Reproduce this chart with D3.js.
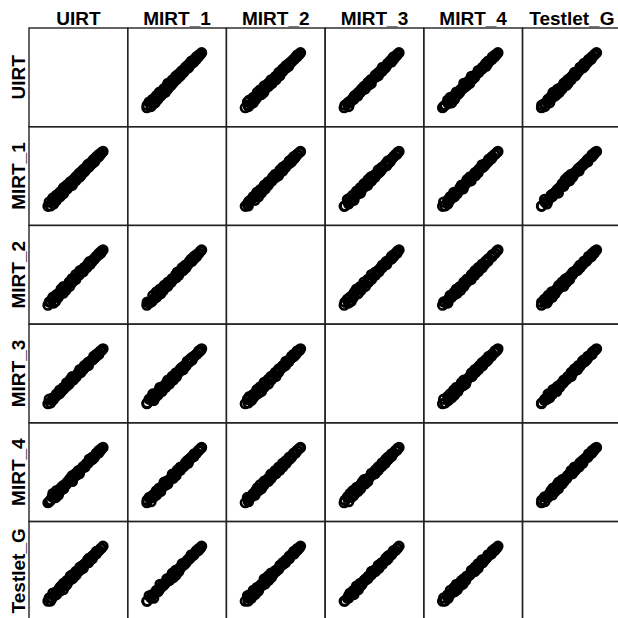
<!DOCTYPE html>
<html>
<head>
<meta charset="utf-8">
<script src="https://cdn.jsdelivr.net/npm/d3@7"></script>
<style>
  body { margin: 0; background: #fff; }
  svg { display: block; }
</style>
</head>
<body>
<figure id="splom" style="margin:0"></figure>
<script>
// variable names (rows and columns of the matrix)
const variables = ["UIRT", "MIRT_1", "MIRT_2", "MIRT_3", "MIRT_4", "Testlet_G"];

const UIRT = [-3.20, -2.93, -3.07, -2.60, -2.76, -2.39, -2.68, -2.30, -2.10, -2.31, -1.93, -1.96, -1.59,
  -1.81, -1.55, -1.31, -1.56, -1.18, -1.23, -0.90, -0.96, -0.63, -0.84, -0.53, -0.65, -0.27, -0.24, -0.26,
  0.11, 0.01, 0.26, 0.16, 0.52, 0.48, 0.71, 0.63, 0.88, 1.06, 0.99, 1.23, 1.16, 1.47, 1.48, 1.71, 1.63,
  1.89, 1.90, 2.15, 2.16, 2.36, 2.44, 2.60];
const MIRT_1 = [-3.18, -3.15, -2.74, -2.94, -2.46, -2.63, -2.31, -2.55, -2.16, -2.01, -2.18, -1.72, -1.87,
  -1.59, -1.79, -1.43, -1.22, -1.36, -0.97, -1.08, -0.80, -0.96, -0.61, -0.39, -0.51, -0.50, -0.10, -0.09,
  -0.13, 0.18, 0.04, 0.36, 0.35, 0.64, 0.54, 0.77, 0.94, 0.89, 1.18, 1.08, 1.31, 1.32, 1.59, 1.50, 1.78,
  1.81, 2.04, 2.03, 2.26, 2.30, 2.48, 2.59];
const MIRT_2 = [-3.21, -2.90, -2.87, -2.98, -2.57, -2.78, -2.37, -2.18, -2.36, -2.10, -1.82, -2.00, -1.94,
  -1.51, -1.51, -1.63, -1.25, -1.12, -1.20, -1.22, -0.77, -0.79, -0.80, -0.47, -0.40, -0.51, -0.31, 0.02,
  0.00, -0.05, 0.28, 0.43, 0.32, 0.45, 0.74, 0.76, 0.73, 1.02, 1.11, 1.07, 1.37, 1.43, 1.42, 1.67, 1.67,
  1.94, 1.89, 2.10, 2.25, 2.27, 2.49, 2.61];
const MIRT_3 = [-3.19, -3.11, -2.71, -2.72, -2.85, -2.44, -2.57, -2.16, -2.20, -2.28, -2.09, -1.75, -1.70,
  -1.89, -1.46, -1.41, -1.49, -1.29, -0.99, -0.94, -1.10, -0.70, -0.63, -0.68, -0.34, -0.32, -0.38, -0.31,
  0.06, 0.10, 0.11, 0.41, 0.48, 0.40, 0.66, 0.82, 0.79, 0.85, 1.14, 1.28, 1.22, 1.44, 1.41, 1.64, 1.80,
  1.80, 2.02, 2.00, 2.22, 2.38, 2.43, 2.59];
const MIRT_4 = [-3.22, -2.96, -3.11, -2.66, -2.62, -2.68, -2.26, -2.43, -2.40, -1.96, -1.97, -2.04, -1.68,
  -1.61, -1.76, -1.32, -1.39, -1.06, -1.24, -0.96, -0.79, -0.98, -0.66, -0.65, -0.37, -0.21, -0.35, -0.12,
  -0.18, 0.17, 0.24, 0.19, 0.53, 0.55, 0.53, 0.66, 0.95, 1.00, 0.94, 1.20, 1.38, 1.33, 1.57, 1.57, 1.64,
  1.93, 1.99, 2.02, 2.27, 2.31, 2.50, 2.61];
const Testlet_G = [-3.20, -3.18, -2.85, -2.63, -2.88, -2.53, -2.34, -2.50, -2.05, -2.19, -2.13, -1.77, -1.98,
  -1.60, -1.42, -1.55, -1.31, -1.39, -1.03, -0.85, -1.02, -0.84, -0.55, -0.71, -0.42, -0.24, -0.43, -0.07,
  0.06, -0.08, 0.13, 0.38, 0.28, 0.58, 0.76, 0.67, 0.86, 0.86, 1.16, 1.12, 1.35, 1.28, 1.54, 1.69, 1.69,
  1.77, 2.05, 2.12, 2.14, 2.35, 2.42, 2.60];

const scores = { UIRT, MIRT_1, MIRT_2, MIRT_3, MIRT_4, Testlet_G };

const width = 618, height = 618;
const gridLeft = 29, gridTop = 28;
const cell = 98.7;

const svg = d3.select("figure#splom")
  .append("svg")
  .attr("width", width)
  .attr("height", height);

// grid scales: one band per variable
const col = d3.scaleBand().domain(variables).range([gridLeft, gridLeft + cell * variables.length]);
const row = d3.scaleBand().domain(variables).range([gridTop, gridTop + cell * variables.length]);

// value scales inside one cell
const x = d3.scaleLinear().domain([-5.2, 5.2]).range([0, cell]);
const y = d3.scaleLinear().domain([-5.2, 5.2]).range([cell, 0]);

// column headers
svg.append("g")
  .selectAll("text")
  .data(variables)
  .enter()
  .append("text")
  .attr("x", d => col(d) + cell / 2)
  .attr("y", 25)
  .attr("text-anchor", "middle")
  .style("font", "bold 19px 'Liberation Sans', Arial, sans-serif")
  .text(d => d);

// row labels, rotated
svg.append("g")
  .selectAll("text")
  .data(variables)
  .enter()
  .append("text")
  .attr("transform", d => "translate(25," + (row(d) + cell / 2) + ")rotate(-90)")
  .attr("text-anchor", "middle")
  .style("font", "bold 19px 'Liberation Sans', Arial, sans-serif")
  .text(d => d);

// one cell per pair
const pairs = [];
variables.forEach(r => variables.forEach(c => pairs.push({ r, c })));

const cells = svg.append("g")
  .selectAll("g")
  .data(pairs)
  .enter()
  .append("g")
  .attr("transform", d => "translate(" + col(d.c) + "," + row(d.r) + ")");

cells.each(function (d) {
  if (d.r === d.c) return; // diagonal left empty
  const xs = scores[d.c], ys = scores[d.r];
  d3.select(this).selectAll("circle")
    .data(xs.map((v, i) => [v, ys[i]]))
    .enter()
    .append("circle")
    .attr("cx", p => x(p[0]))
    .attr("cy", p => y(p[1]))
    .attr("r", 4.3)
    .attr("fill", "none")
    .attr("stroke", "#000")
    .attr("stroke-width", 2.7);
});

// cell borders on top
cells.append("rect")
  .attr("width", cell)
  .attr("height", cell)
  .attr("fill", "none")
  .attr("stroke", "#222")
  .attr("stroke-width", 1.4);
</script>
</body>
</html>
